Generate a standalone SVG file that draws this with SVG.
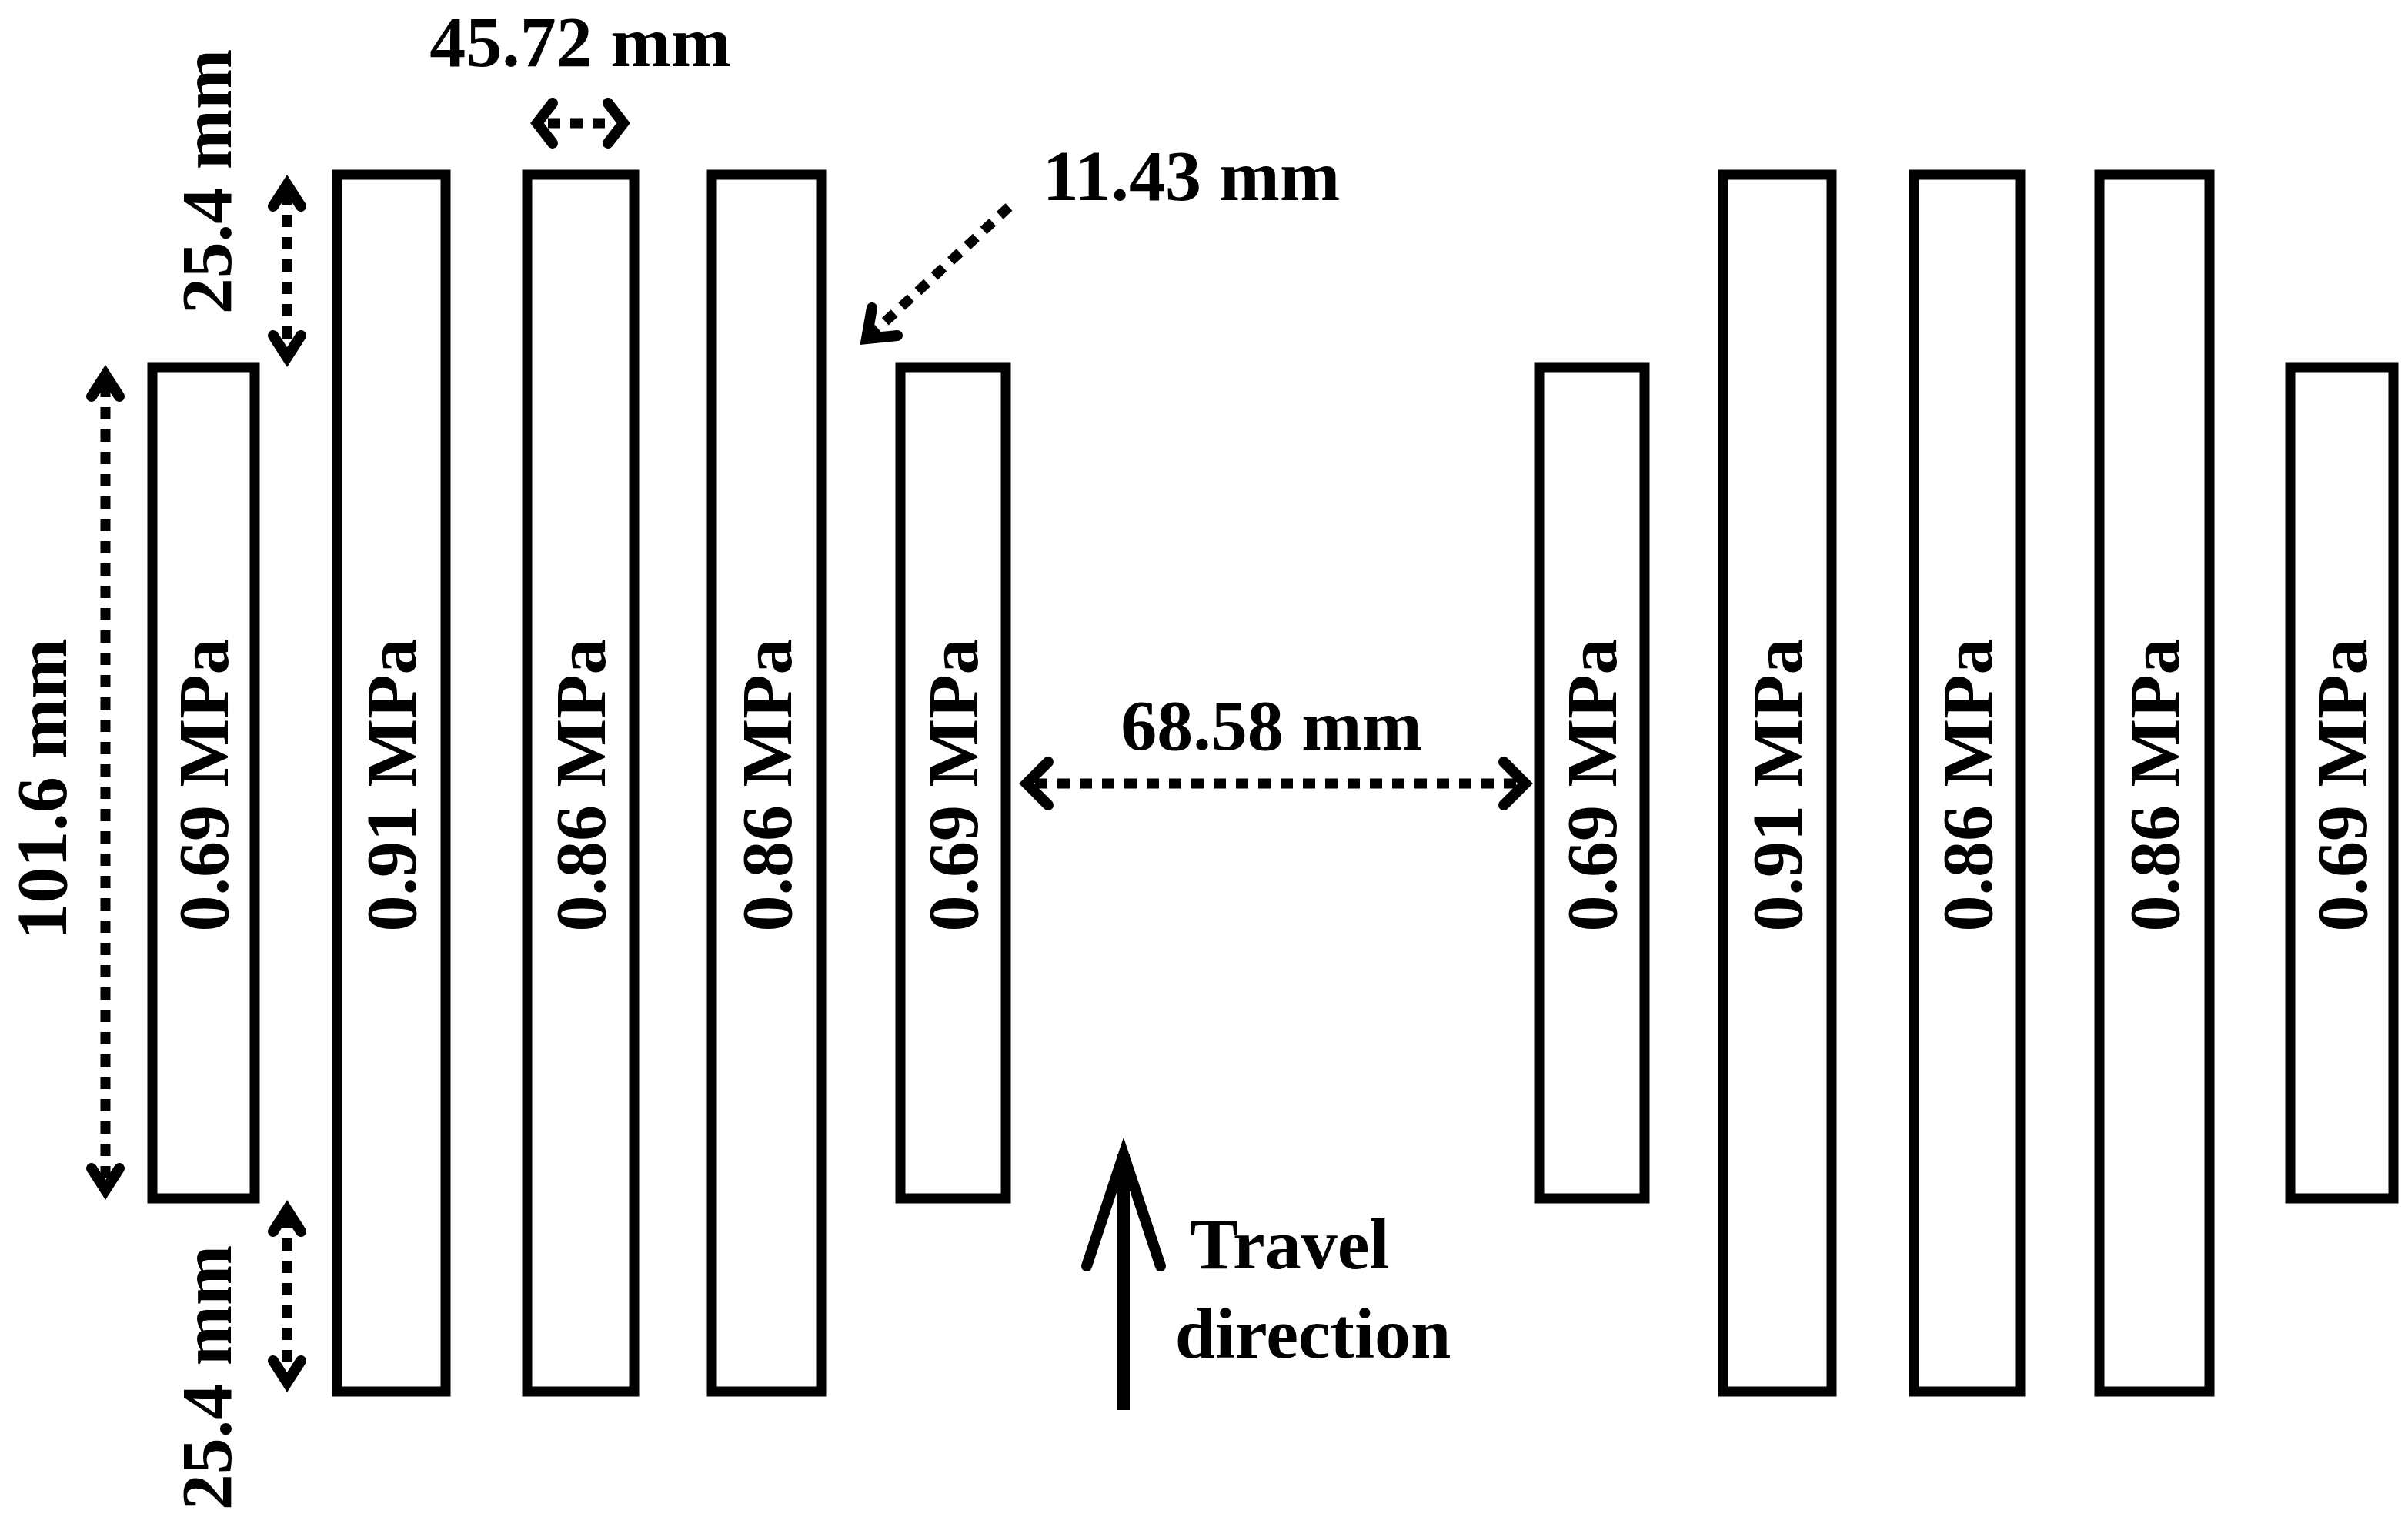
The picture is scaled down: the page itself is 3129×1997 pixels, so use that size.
<svg xmlns="http://www.w3.org/2000/svg" width="3129" height="1997" viewBox="0 0 3129 1997">
<style>
.b{fill:#fff;stroke:#000;stroke-width:13}
.t{font-family:"Liberation Serif",serif;font-weight:bold;font-size:94px;fill:#000;text-anchor:middle}
.d{stroke:#000;stroke-width:13;stroke-dasharray:16 13;fill:none}
.h{stroke:#000;stroke-width:14;fill:none;stroke-linecap:round;stroke-linejoin:miter}
</style>
<rect width="3129" height="1997" fill="#fff"/>
<g id="n1"><rect class="b" x="198" y="477" width="133" height="1080"/><text class="t" transform="translate(296,1020) rotate(-90)">0.69 MPa</text></g>
<g id="n2"><rect class="b" x="438" y="227" width="141" height="1581"/><text class="t" transform="translate(540,1020) rotate(-90)">0.91 MPa</text></g>
<g id="n3"><rect class="b" x="685" y="227" width="139" height="1581"/><text class="t" transform="translate(786,1020) rotate(-90)">0.86 MPa</text></g>
<g id="n4"><rect class="b" x="925" y="227" width="142" height="1581"/><text class="t" transform="translate(1028,1020) rotate(-90)">0.86 MPa</text></g>
<g id="n5"><rect class="b" x="1170" y="477" width="137" height="1080"/><text class="t" transform="translate(1270,1020) rotate(-90)">0.69 MPa</text></g>
<g id="n6"><rect class="b" x="2000" y="477" width="137" height="1080"/><text class="t" transform="translate(2100,1020) rotate(-90)">0.69 MPa</text></g>
<g id="n7"><rect class="b" x="2239" y="227" width="141" height="1581"/><text class="t" transform="translate(2341,1020) rotate(-90)">0.91 MPa</text></g>
<g id="n8"><rect class="b" x="2487" y="227" width="138" height="1581"/><text class="t" transform="translate(2588,1020) rotate(-90)">0.86 MPa</text></g>
<g id="n9"><rect class="b" x="2728" y="227" width="143" height="1581"/><text class="t" transform="translate(2831,1020) rotate(-90)">0.86 MPa</text></g>
<g id="n10"><rect class="b" x="2976" y="477" width="134" height="1080"/><text class="t" transform="translate(3075,1020) rotate(-90)">0.69 MPa</text></g>
<g id="connectors">
<line class="d" x1="712" y1="160" x2="798" y2="160" stroke-dasharray="14 12"/>
<polyline class="h" points="718,134 698,160 718,186"/><polyline class="h" points="790,134 810,160 790,186"/>
<line class="d" x1="373" y1="250" x2="373" y2="455"/>
<polyline class="h" points="355,268 373,240 391,268"/><polyline class="h" points="355,436 373,464 391,436"/>
<line class="d" x1="137" y1="500" x2="137" y2="1532"/>
<polyline class="h" points="119,515 137,487 155,515"/><polyline class="h" points="119,1518 137,1546 155,1518"/>
<line class="d" x1="373" y1="1580" x2="373" y2="1786"/>
<polyline class="h" points="355,1600 373,1572 391,1600"/><polyline class="h" points="355,1768 373,1796 391,1768"/>
<line class="d" x1="1311" y1="269" x2="1135" y2="432"/>
<polyline class="h" points="1133,400 1126,440 1166,436"/>
<line class="d" x1="1345" y1="1018" x2="1970" y2="1018"/>
<polyline class="h" points="1362,990 1334,1018 1362,1046"/><polyline class="h" points="1954,990 1982,1018 1954,1046"/>
<line x1="1460" y1="1500" x2="1460" y2="1832" stroke="#000" stroke-width="16"/>
<polyline class="h" points="1412,1645 1460,1500 1508,1645" stroke-width="16"/>
</g>
<text class="t" x="754" y="86">45.72 mm</text>
<text class="t" transform="translate(300,236) rotate(-90)">25.4 mm</text>
<text class="t" transform="translate(86,1025) rotate(-90)">101.6 mm</text>
<text class="t" transform="translate(300,1790) rotate(-90)">25.4 mm</text>
<text class="t" x="1548" y="260">11.43 mm</text>
<text class="t" x="1652" y="974">68.58 mm</text>
<text class="t" x="1676" y="1648">Travel</text>
<text class="t" x="1706" y="1764">direction</text>
</svg>
